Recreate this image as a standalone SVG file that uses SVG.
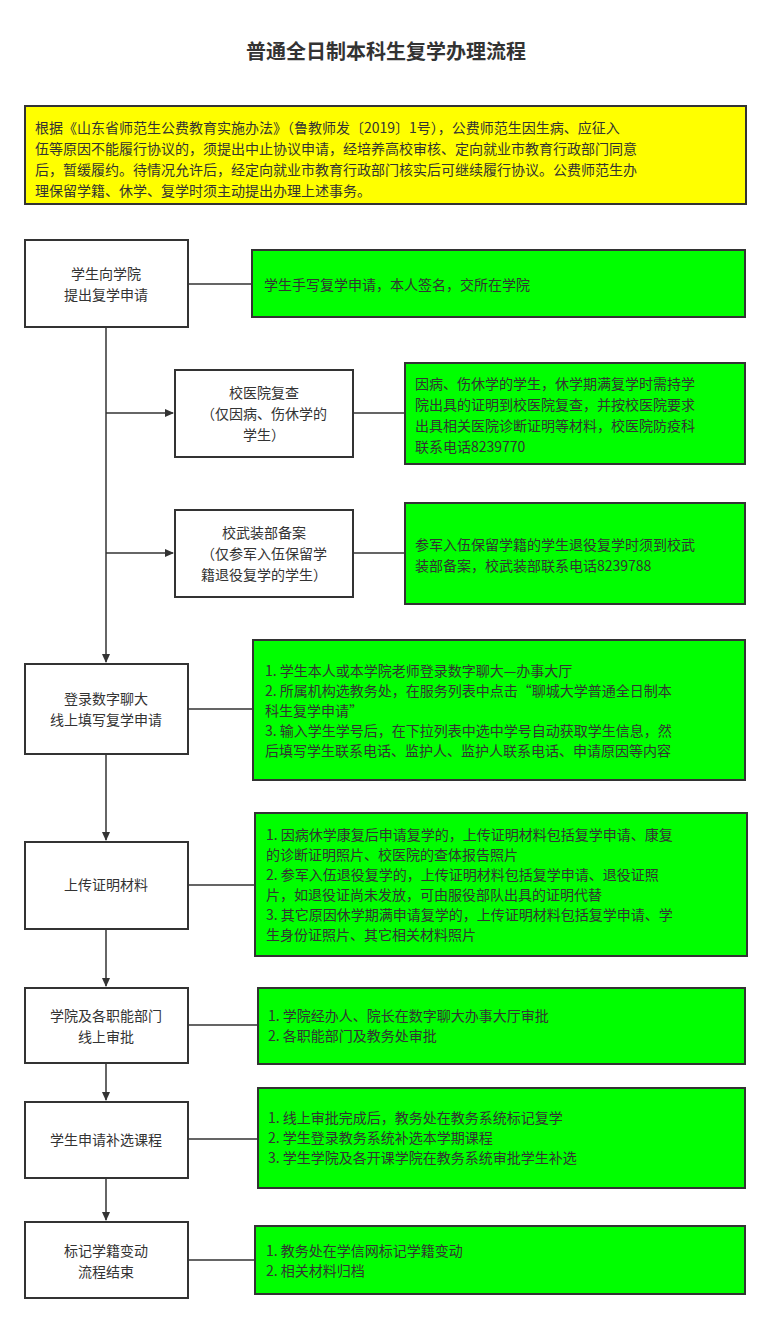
<svg xmlns="http://www.w3.org/2000/svg" width="772" height="1324" viewBox="0 0 772 1324">
<style>
text{font-family:"Noto Sans CJK SC","Noto Sans",sans-serif;font-size:14px;fill:#333}
.n{fill:#fff;stroke:#333;stroke-width:2}
.g{fill:#00ff00;stroke:#333;stroke-width:2}
.c{text-anchor:middle}
.e{stroke:#333;stroke-width:1.5;fill:none}
</style>
<defs><marker id="a" markerWidth="10" markerHeight="10" refX="8" refY="5" orient="auto" markerUnits="userSpaceOnUse"><path d="M0,1 L9,5 L0,9 Z" fill="#333"/></marker></defs>
<rect width="772" height="1324" fill="#fff"/>
<text x="386" y="59" class="c" style="font-size:20px;font-weight:bold">普通全日制本科生复学办理流程</text>
<g id="intro"><rect x="25" y="106" width="721" height="98" fill="#ffff00" stroke="#333" stroke-width="2"/>
<text x="35" y="133">根据《山东省师范生公费教育实施办法》（鲁教师发〔2019〕1号），公费师范生因生病、应征入</text>
<text x="35" y="154">伍等原因不能履行协议的，须提出中止协议申请，经培养高校审核、定向就业市教育行政部门同意</text>
<text x="35" y="175">后，暂缓履约。待情况允许后，经定向就业市教育行政部门核实后可继续履行协议。公费师范生办</text>
<text x="35" y="196">理保留学籍、休学、复学时须主动提出办理上述事务。</text></g>
<g id="connectors">
<path class="e" d="M106,327 V662" marker-end="url(#a)"/>
<path class="e" d="M106,413 H173" marker-end="url(#a)"/>
<path class="e" d="M106,553 H173" marker-end="url(#a)"/>
<path class="e" d="M106,754 V840" marker-end="url(#a)"/>
<path class="e" d="M106,929 V986" marker-end="url(#a)"/>
<path class="e" d="M106,1063 V1100" marker-end="url(#a)"/>
<path class="e" d="M106,1178 V1220" marker-end="url(#a)"/>
<path class="e" d="M188,284 H252 M353,413 H405 M353,553 H405 M188,709 H253 M188,885 H255 M188,1025 H258 M188,1139 H258 M188,1260 H255"/>
</g>
<g id="n1"><rect class="n" x="25" y="240" width="163" height="87"/><text x="106" y="279" class="c">学生向学院</text><text x="106" y="300" class="c">提出复学申请</text></g>
<g id="n2"><rect class="n" x="175" y="370" width="178" height="87"/><text x="264" y="398" class="c">校医院复查</text><text x="264" y="419" class="c">（仅因病、伤休学的</text><text x="264" y="440" class="c">学生）</text></g>
<g id="n3"><rect class="n" x="175" y="510" width="178" height="87"/><text x="264" y="538" class="c">校武装部备案</text><text x="264" y="559" class="c">（仅参军入伍保留学</text><text x="264" y="580" class="c">籍退役复学的学生）</text></g>
<g id="n4"><rect class="n" x="25" y="664" width="163" height="90"/><text x="106" y="704" class="c">登录数字聊大</text><text x="106" y="725" class="c">线上填写复学申请</text></g>
<g id="n5"><rect class="n" x="25" y="842" width="163" height="87"/><text x="106" y="890" class="c">上传证明材料</text></g>
<g id="n6"><rect class="n" x="25" y="988" width="163" height="75"/><text x="106" y="1021" class="c">学院及各职能部门</text><text x="106" y="1042" class="c">线上审批</text></g>
<g id="n7"><rect class="n" x="25" y="1102" width="163" height="76"/><text x="106" y="1145" class="c">学生申请补选课程</text></g>
<g id="n8"><rect class="n" x="25" y="1222" width="163" height="76"/><text x="106" y="1256" class="c">标记学籍变动</text><text x="106" y="1277" class="c">流程结束</text></g>
<g id="g1"><rect class="g" x="252" y="250" width="493" height="67"/><text x="264" y="290">学生手写复学申请，本人签名，交所在学院</text></g>
<g id="g2"><rect class="g" x="405" y="363" width="340" height="101"/><text x="415" y="389">因病、伤休学的学生，休学期满复学时需持学</text><text x="415" y="410">院出具的证明到校医院复查，并按校医院要求</text><text x="415" y="431">出具相关医院诊断证明等材料，校医院防疫科</text><text x="415" y="452">联系电话8239770</text></g>
<g id="g3"><rect class="g" x="405" y="503" width="340" height="101"/><text x="415" y="550">参军入伍保留学籍的学生退役复学时须到校武</text><text x="415" y="571">装部备案，校武装部联系电话8239788</text></g>
<g id="g4"><rect class="g" x="253" y="640" width="492" height="140"/><text x="265" y="676">1. 学生本人或本学院老师登录数字聊大—办事大厅</text><text x="265" y="696">2. 所属机构选教务处，在服务列表中点击“聊城大学普通全日制本</text><text x="265" y="716">科生复学申请”</text><text x="265" y="736">3. 输入学生学号后，在下拉列表中选中学号自动获取学生信息，然</text><text x="265" y="756">后填写学生联系电话、监护人、监护人联系电话、申请原因等内容</text></g>
<g id="g5"><rect class="g" x="255" y="813" width="492" height="143"/><text x="266" y="840">1. 因病休学康复后申请复学的，上传证明材料包括复学申请、康复</text><text x="266" y="860">的诊断证明照片、校医院的查体报告照片</text><text x="266" y="880">2. 参军入伍退役复学的，上传证明材料包括复学申请、退役证照</text><text x="266" y="900">片，如退役证尚未发放，可由服役部队出具的证明代替</text><text x="266" y="920">3. 其它原因休学期满申请复学的，上传证明材料包括复学申请、学</text><text x="266" y="940">生身份证照片、其它相关材料照片</text></g>
<g id="g6"><rect class="g" x="258" y="988" width="487" height="76"/><text x="268" y="1021">1. 学院经办人、院长在数字聊大办事大厅审批</text><text x="268" y="1041">2. 各职能部门及教务处审批</text></g>
<g id="g7"><rect class="g" x="258" y="1088" width="487" height="100"/><text x="268" y="1123">1. 线上审批完成后，教务处在教务系统标记复学</text><text x="268" y="1143">2. 学生登录教务系统补选本学期课程</text><text x="268" y="1163">3. 学生学院及各开课学院在教务系统审批学生补选</text></g>
<g id="g8"><rect class="g" x="255" y="1226" width="490" height="68"/><text x="266" y="1256">1. 教务处在学信网标记学籍变动</text><text x="266" y="1276">2. 相关材料归档</text></g>
</svg>
